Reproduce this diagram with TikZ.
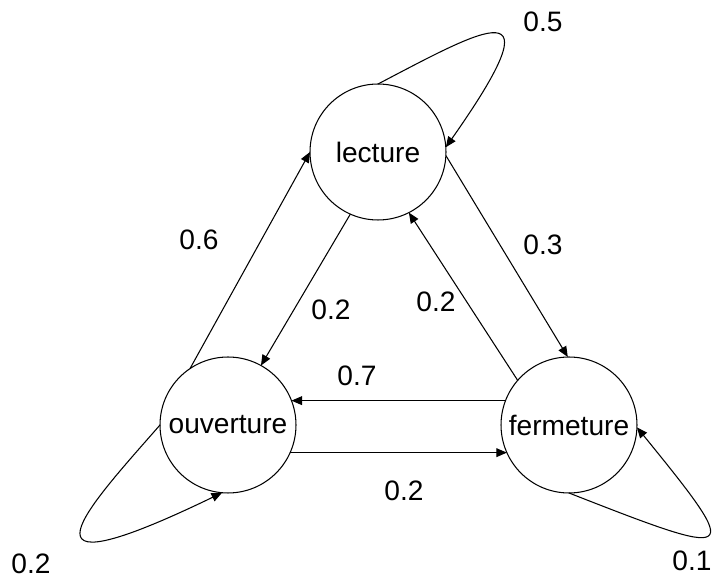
\documentclass[tikz,border=0pt]{standalone}
\usepackage{fontspec}
\setmainfont{Liberation Sans}
\usetikzlibrary{arrows.meta, positioning}
\tikzset{
  state/.style={circle, draw=black, minimum size=2.72cm, inner sep=0pt, outer sep=0pt},
  arrow/.style={-{Triangle[length=6pt, width=5pt]}},
  prob/.style={inner sep=0pt}
}

\begin{document}
\begin{tikzpicture}[
    x=0.02cm, y=-0.02cm,
    line width=0.6pt,
    every node/.style={font=\fontsize{16}{19}\selectfont}
]
    \useasboundingbox (0,0) rectangle (714,577);

    \node (lecture) [state] at (378,152) {lecture};
    \node (ouverture) [state] at (228,425) {ouverture};
    \node (fermeture) [state] at (569,425) {fermeture};

    \node (lbl-ll) [prob] at (543,22) {0.5};
    \node (lbl-ol) [prob] at (199,240) {0.6};
    \node (lbl-lo) [prob] at (331,310) {0.2};
    \node (lbl-fl) [prob] at (436,302) {0.2};
    \node (lbl-lf) [prob] at (543,245) {0.3};
    \node (lbl-fo) [prob] at (357,376) {0.7};
    \node (lbl-of) [prob] at (404,491) {0.2};
    \node (lbl-oo) [prob] at (31,564) {0.2};
    \node (lbl-ff) [prob] at (692,561) {0.1};

    \draw [arrow] (ouverture.124) -- (lecture.180);
    \draw [arrow] (lecture.246) -- (ouverture.61);
    \draw [arrow] (lecture.-3) -- (fermeture.91);
    \draw [arrow] (fermeture.139) -- (lecture.297);
    \draw [arrow] (fermeture.159) -- (ouverture.21);
    \draw [arrow] (ouverture.-24) -- (fermeture.204);

    \draw [arrow] (lecture.90) .. controls (485,28) and (560,-15) .. (lecture.4);
    \draw [arrow] (ouverture.180) .. controls (90,505) and (0,600) .. (ouverture.265);
    \draw [arrow] (fermeture.270) .. controls (740,560) and (745,560) .. (fermeture.358);
\end{tikzpicture}
\end{document}
